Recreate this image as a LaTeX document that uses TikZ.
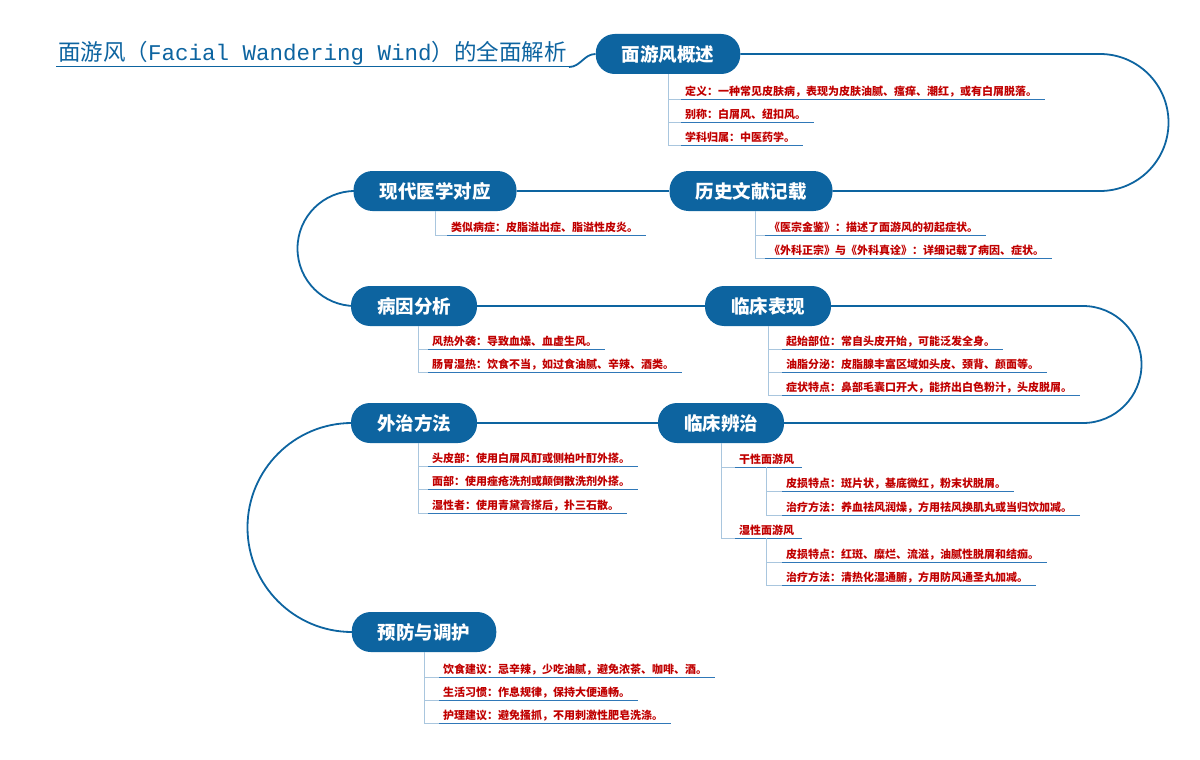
\documentclass[tikz,border=0pt]{standalone}
\usepackage{fontspec}
\setmainfont{Noto Sans CJK SC}
\newfontfamily\monof{Liberation Mono}
\begin{document}
\begin{tikzpicture}[x=1pt,y=-1pt,
  main/.style={fill=nblue,text=white,rounded corners=19pt,minimum height=40pt,inner xsep=26pt,font=\fontsize{18.5}{18.5}\selectfont\bfseries},
  link/.style={draw=nblue,line width=1.8pt},
  leaf/.style={anchor=south west,text=leafred,inner xsep=2pt,inner ysep=2pt,font=\fontsize{11}{11.5}\selectfont\bfseries},
  uline/.style={draw=ublue,line width=1pt},
  stem/.style={draw=sblue,line width=0.8pt}]
\definecolor{nblue}{HTML}{0D64A0}
\definecolor{leafred}{HTML}{C00000}
\definecolor{ublue}{HTML}{2F78B8}
\definecolor{sblue}{HTML}{A9C6DE}
\useasboundingbox (0,0) rectangle (1200,760);
\newcommand{\leafat}[4]{\node[leaf] (#1) at (#2,#3) {#4}; \draw[uline] ([xshift=-2pt]#1.south west) -- ([xshift=6pt]#1.south east);}
% title
\node[anchor=south west,text=nblue,inner sep=2pt,font=\fontsize{22.5}{22.5}\selectfont] (title) at (56,67) {面游风（{\monof Facial Wandering Wind}）的全面解析};
\draw[draw=nblue,line width=1pt] (title.south west) -- (title.south east);
% main nodes
\node[main] (n1) at (668,54) {面游风概述};
\node[main] (n2) at (751,191) {历史文献记载};
\node[main] (n3) at (435,191) {现代医学对应};
\node[main] (n4) at (414,306) {病因分析};
\node[main] (n5) at (768,306) {临床表现};
\node[main] (n6) at (721,423) {临床辨治};
\node[main] (n7) at (414,423) {外治方法};
\node[main] (n8) at (424,632) {预防与调护};
% chain
\draw[link] (title.south east) to[out=0,in=180] (n1.west);
\draw[link] (n1.east) -- (1100,54) arc[start angle=-90,end angle=90,radius=68.5] -- (n2.east);
\draw[link] (n2.west) -- (n3.east);
\draw[link] (n3.west) -- (355,191) arc[start angle=270,end angle=90,radius=57.5] -- (n4.west);
\draw[link] (n4.east) -- (n5.west);
\draw[link] (n5.east) -- (1083,306) arc[start angle=-90,end angle=90,radius=58.5] -- (n6.east);
\draw[link] (n6.west) -- (n7.east);
\draw[link] (n7.west) -- (352,423) arc[start angle=270,end angle=90,radius=104.5] -- (n8.west);
% leaves n1
\leafat{a1}{683}{99}{定义：一种常见皮肤病，表现为皮肤油腻、瘙痒、潮红，或有白屑脱落。}
\leafat{a2}{683}{122}{别称：白屑风、纽扣风。}
\leafat{a3}{683}{145}{学科归属：中医药学。}
\foreach \c in {a1,a2,a3} \draw[stem] (n1.south) |- ([xshift=-2pt]\c.south west);
% n2
\leafat{b1}{767}{235}{《医宗金鉴》：描述了面游风的初起症状。}
\leafat{b2}{767}{258}{《外科正宗》与《外科真诠》：详细记载了病因、症状。}
\foreach \c in {b1,b2} \draw[stem] ([xshift=4pt]n2.south) |- ([xshift=-2pt]\c.south west);
% n3
\leafat{c1}{449}{235}{类似病症：皮脂溢出症、脂溢性皮炎。}
\draw[stem] (n3.south) |- ([xshift=-2pt]c1.south west);
% n4
\leafat{d1}{430}{349}{风热外袭：导致血燥、血虚生风。}
\leafat{d2}{430}{372}{肠胃湿热：饮食不当，如过食油腻、辛辣、酒类。}
\foreach \c in {d1,d2} \draw[stem] ([xshift=4pt]n4.south) |- ([xshift=-2pt]\c.south west);
% n5
\leafat{e1}{784}{349}{起始部位：常自头皮开始，可能泛发全身。}
\leafat{e2}{784}{372}{油脂分泌：皮脂腺丰富区域如头皮、颈背、颜面等。}
\leafat{e3}{784}{395}{症状特点：鼻部毛囊口开大，能挤出白色粉汁，头皮脱屑。}
\foreach \c in {e1,e2,e3} \draw[stem] (n5.south) |- ([xshift=-2pt]\c.south west);
% n7
\leafat{f1}{430}{466}{头皮部：使用白屑风酊或侧柏叶酊外搽。}
\leafat{f2}{430}{489}{面部：使用痤疮洗剂或颠倒散洗剂外搽。}
\leafat{f3}{430}{513}{湿性者：使用青黛膏搽后，扑三石散。}
\foreach \c in {f1,f2,f3} \draw[stem] ([xshift=4pt]n7.south) |- ([xshift=-2pt]\c.south west);
% n6
\leafat{g1}{737}{467}{干性面游风}
\leafat{g2}{737}{538}{湿性面游风}
\foreach \c in {g1,g2} \draw[stem] (n6.south) |- ([xshift=-2pt]\c.south west);
\leafat{h1}{784}{491}{皮损特点：斑片状，基底微红，粉末状脱屑。}
\leafat{h2}{784}{515}{治疗方法：养血祛风润燥，方用祛风换肌丸或当归饮加减。}
\foreach \c in {h1,h2} \draw[stem] ([xshift=29pt]g1.south west) |- ([xshift=-2pt]\c.south west);
\leafat{i1}{784}{562}{皮损特点：红斑、糜烂、流滋，油腻性脱屑和结痂。}
\leafat{i2}{784}{585}{治疗方法：清热化湿通腑，方用防风通圣丸加减。}
\foreach \c in {i1,i2} \draw[stem] ([xshift=29pt]g2.south west) |- ([xshift=-2pt]\c.south west);
% n8
\leafat{j1}{441}{677}{饮食建议：忌辛辣，少吃油腻，避免浓茶、咖啡、酒。}
\leafat{j2}{441}{700}{生活习惯：作息规律，保持大便通畅。}
\leafat{j3}{441}{723}{护理建议：避免搔抓，不用刺激性肥皂洗涤。}
\foreach \c in {j1,j2,j3} \draw[stem] (n8.south) |- ([xshift=-2pt]\c.south west);
\end{tikzpicture}
\end{document}
